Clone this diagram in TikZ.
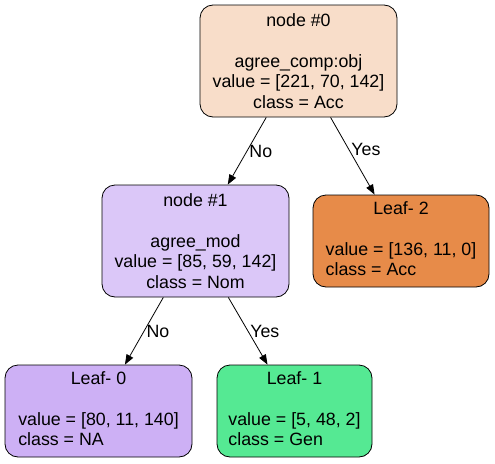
\documentclass[tikz,border=0pt]{standalone}
\usepackage{fontspec}
\setmainfont{Liberation Sans}
\usetikzlibrary{arrows.meta}

\definecolor{rootfill}{HTML}{F8DDC9}
\definecolor{nomfill}{HTML}{DBC7F8}
\definecolor{accfill}{HTML}{E78B49}
\definecolor{nafill}{HTML}{CDB0F5}
\definecolor{genfill}{HTML}{55E993}

\begin{document}
\begin{tikzpicture}[x=1pt,y=-1pt,
  treebox/.style={draw=black,line width=0.8pt,rounded corners=13pt,inner sep=0pt,
    font=\fontsize{17.8}{20.4}\selectfont,align=center},
  edge/.style={draw=black,line width=0.8pt,-{Triangle[length=10pt,width=7.5pt]}},
  answer/.style={font=\fontsize{17.8}{20}\selectfont,anchor=west,inner sep=2pt}]
 \useasboundingbox (0,0) rectangle (495,463);
 \node[treebox,fill=rootfill,minimum width=197pt,minimum height=112pt] (root) at (298.5,61)
   {node \#0\\ \\agree\_comp:obj\\value = [221, 70, 142]\\class = Acc};
 \node[treebox,fill=nomfill,minimum width=187pt,minimum height=112pt] (split) at (195.5,241)
   {node \#1\\ \\agree\_mod\\value = [85, 59, 142]\\class = Nom};
 \node[treebox,fill=accfill,minimum width=176pt,minimum height=92pt] (leaftwo) at (401,241)
   {\begin{tabular}{@{}l@{}}\multicolumn{1}{@{}c@{}}{Leaf- 2}\\ \\value = [136, 11, 0]\\class = Acc\end{tabular}};
 \node[treebox,fill=nafill,minimum width=187pt,minimum height=92pt] (leafzero) at (98.5,411)
   {\begin{tabular}{@{}l@{}}\multicolumn{1}{@{}c@{}}{Leaf- 0}\\ \\value = [80, 11, 140]\\class = NA\end{tabular}};
 \node[treebox,fill=genfill,minimum width=155pt,minimum height=92pt] (leafone) at (294.5,411)
   {\begin{tabular}{@{}l@{}}\multicolumn{1}{@{}c@{}}{Leaf- 1}\\ \\value = [5, 48, 2]\\class = Gen\end{tabular}};
 \draw[edge] (root) -- node[answer,pos=0.5]{No} (split);
 \draw[edge] (root) -- node[answer,pos=0.42]{Yes} (leaftwo);
 \draw[edge] (split) -- node[answer,pos=0.5]{No} (leafzero);
 \draw[edge] (split) -- node[answer,pos=0.5]{Yes} (leafone);
\end{tikzpicture}
\end{document}
